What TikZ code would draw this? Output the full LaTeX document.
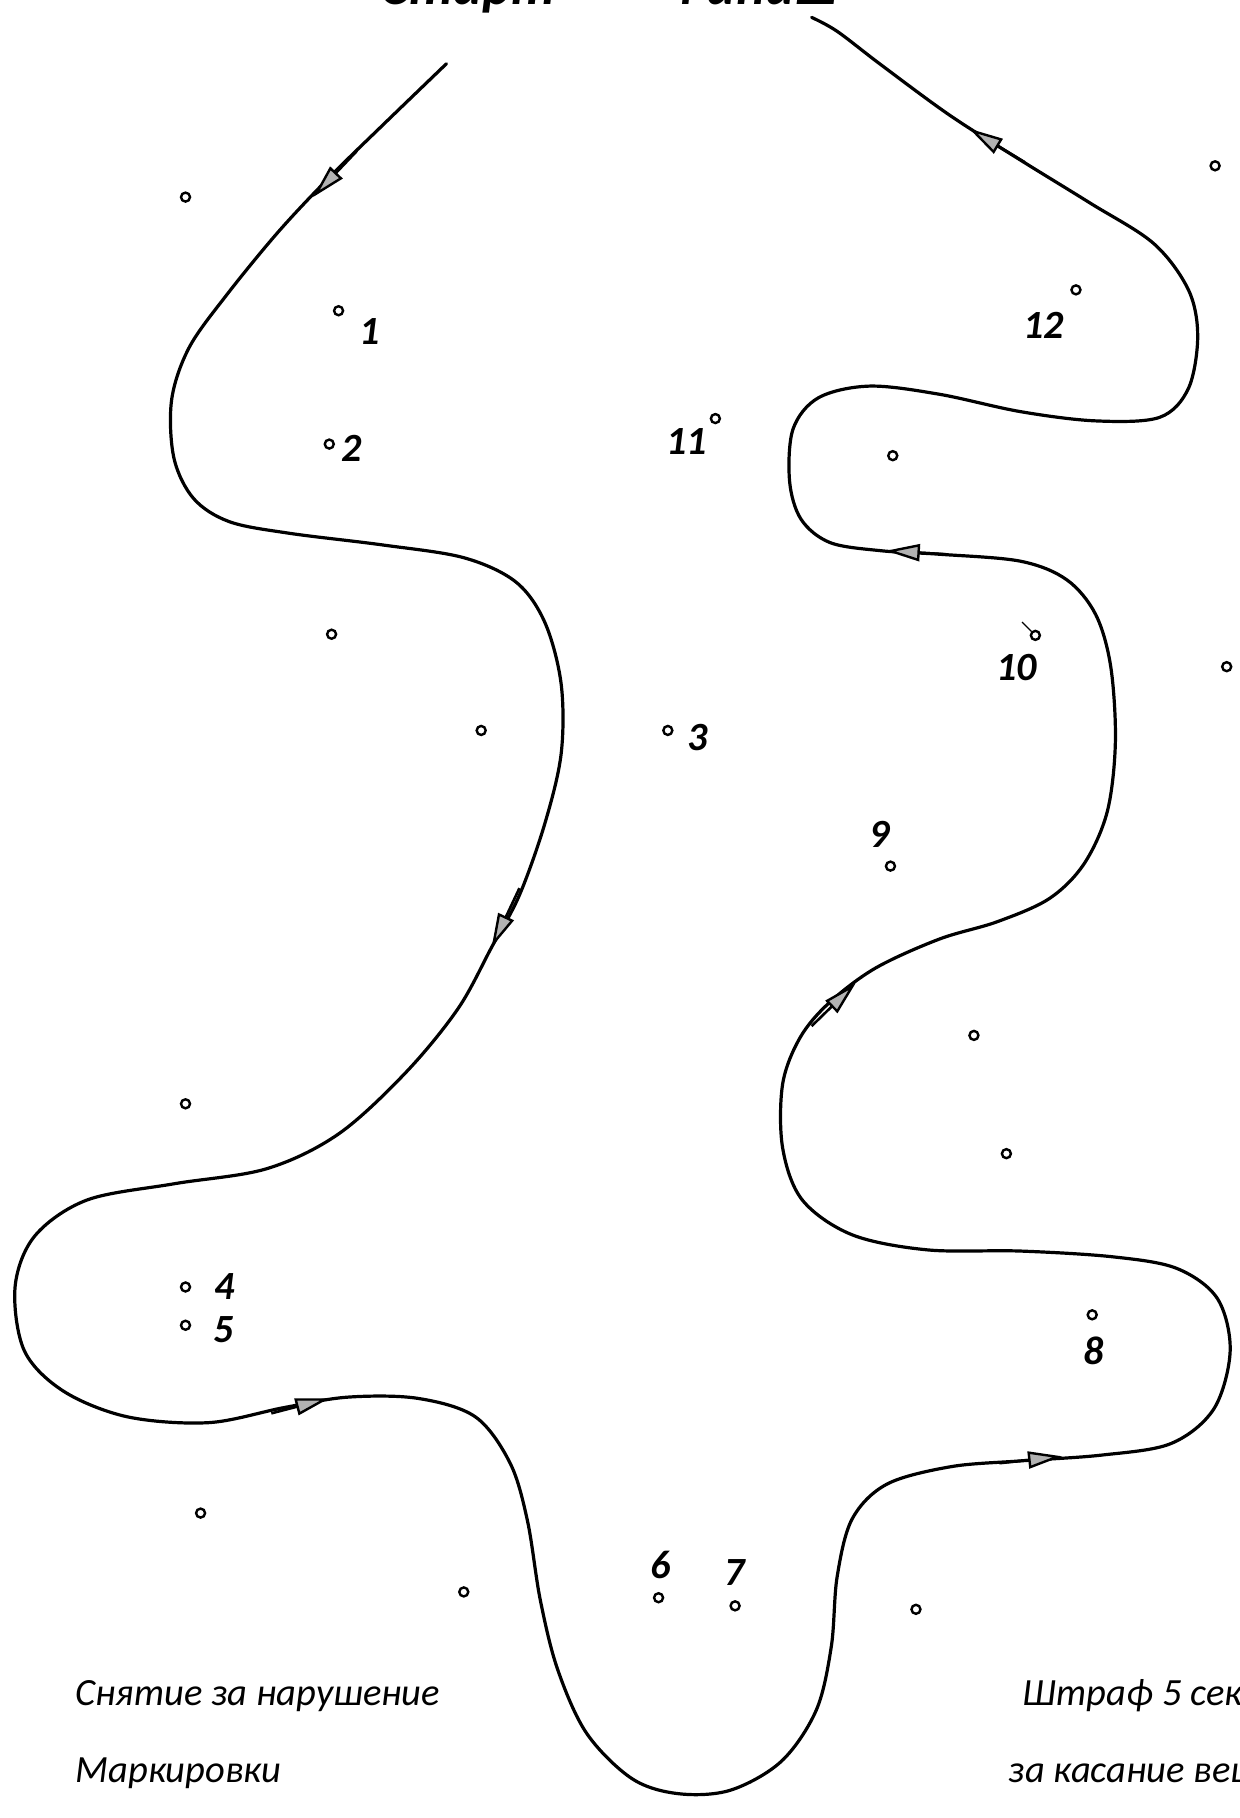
\documentclass[tikz,border=0pt]{standalone}
\usepackage{fontspec}
\setmainfont{Carlito}
\usetikzlibrary{arrows.meta}
\tikzset{
  track/.style={line width=3.2pt, line join=round, line cap=round},
  gate/.style={circle, draw, line width=2.4pt, minimum size=9pt, inner sep=0pt},
  num/.style={font=\fontsize{40}{42}\selectfont\bfseries\itshape, inner sep=0pt},
  note/.style={font=\fontsize{38.5}{42}\selectfont\itshape, anchor=base west, inner sep=0pt},
  ttl/.style={font=\fontsize{55}{60}\selectfont\bfseries\itshape, anchor=base west, inner sep=0pt},
  dirarrow/.style={line width=2.6pt, -{Triangle[length=34pt, width=17pt, fill=gray!60, line width=2.4pt]}}
}
\begin{document}
\begin{tikzpicture}[x=1.159pt, y=-1.159pt]
\useasboundingbox (0,0) rectangle (1069,1568);
\clip (0,0) rectangle (1069,1568);
\fill[white] (0,0) rectangle (1069,1568);

% titles (cut by the top edge, as in the reference)
\node[ttl] (start) at (328,4) {Старт};
\node[ttl] (finish) at (575,4) {Финиш};

% track
\draw[track] plot[smooth, tension=0.55] coordinates {
 (385,55) (330,108) (285,152) (240,200) (195,255) (163,300) (148,345) (150,395)
 (167,430) (198,450) (250,460) (330,470) (400,481) (445,502) (470,537) (484,590)
 (484,650) (470,710) (448,772) (424,817) (395,870) (350,925) (292,978) (230,1008)
 (150,1021) (75,1035) (30,1066) (13,1110) (21,1165) (55,1200) (110,1222) (180,1227)
 (245,1214) (300,1205) (360,1206) (410,1222) (440,1262) (455,1312) (466,1380)
 (481,1440) (506,1495) (545,1534) (585,1547) (630,1544) (674,1519) (704,1475)
 (717,1420) (722,1360) (735,1310) (765,1280) (820,1265) (880,1260) (950,1255)
 (1010,1245) (1047,1215) (1061,1165) (1050,1120) (1015,1094) (960,1084)
 (880,1079) (800,1078) (735,1065) (692,1035) (675,990) (675,935) (690,895)
 (715,865) (755,835) (810,810) (860,795) (905,775) (935,745) (955,700) (962,640)
 (958,575) (945,530) (920,500) (880,484) (810,478) (760,475) (716,468) (691,448)
 (681,415) (684,370) (706,343) (750,333) (810,340) (880,355) (945,363) (1000,360)
 (1025,335) (1033,290) (1025,250) (995,210) (940,175) (880,138) (820,100)
 (760,56) (722,27) (700,15)
};

% direction arrows
\coordinate (a1s) at (308,130); \coordinate (a1e) at (270,170);
\coordinate (a2s) at (448,766); \coordinate (a2e) at (424,817);
\coordinate (a3s) at (234,1219); \coordinate (a3e) at (284,1206);
\coordinate (a4s) at (862,1262); \coordinate (a4e) at (916,1256);
\coordinate (a5s) at (816,478); \coordinate (a5e) at (764,475);
\coordinate (a6s) at (700,885); \coordinate (a6e) at (738,848);
\coordinate (a7s) at (884,140); \coordinate (a7e) at (836,111);
\foreach \i in {1,...,7} \draw[dirarrow] (a\i s) -- (a\i e);

% gates with numbers
\node[gate] (g1) at (292,268) {};   \node[num] (n1) at (319,286) {1};
\node[gate] (g2) at (284,383) {};   \node[num] (n2) at (303,387) {2};
\node[gate] (g11) at (617,361) {};  \node[num] (n11) at (592,381) {11};
\node[gate] (g12) at (928,250) {};  \node[num] (n12) at (900,281) {12};
\node[gate] (g3) at (576,630) {};   \node[num] (n3) at (602,636) {3};
\node[gate] (g10) at (893,548) {};  \node[num] (n10) at (877,576) {10};
\draw[line width=1.4pt] (g10.north west) -- ++(-8,-8);
\node[gate] (g9) at (768,747) {};   \node[num] (n9) at (759,720) {9};
\node[gate] (g4) at (160,1110) {};  \node[num] (n4) at (194,1110) {4};
\node[gate] (g5) at (160,1143) {};  \node[num] (n5) at (193,1147) {5};
\node[gate] (g8) at (942,1134) {};  \node[num] (n8) at (943,1165) {8};
\node[gate] (g6) at (568,1378) {};  \node[num] (n6) at (570,1350) {6};
\node[gate] (g7) at (634,1385) {};  \node[num] (n7) at (634,1356) {7};

% other gates
\node[gate] (o1) at (160,170) {};
\node[gate] (o2) at (1048,143) {};
\node[gate] (o3) at (770,393) {};
\node[gate] (o4) at (286,547) {};
\node[gate] (o5) at (1058,575) {};
\node[gate] (o6) at (415,630) {};
\node[gate] (o7) at (840,893) {};
\node[gate] (o8) at (160,952) {};
\node[gate] (o9) at (868,995) {};
\node[gate] (o10) at (173,1305) {};
\node[gate] (o11) at (400,1373) {};
\node[gate] (o12) at (790,1388) {};

% notes
\node[note] (t1) at (65,1471) {Снятие за нарушение};
\node[note] (t2) at (65,1537.5) {Маркировки};
\node[note] (t3) at (882,1471) {Штраф 5 секунд};
\node[note] (t4) at (870,1537.5) {за касание вешек};
\end{tikzpicture}
\end{document}
